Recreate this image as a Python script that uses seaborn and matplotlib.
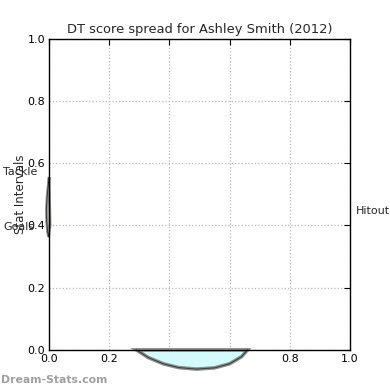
import matplotlib
matplotlib.use("Agg")
import matplotlib.pyplot as plt
import seaborn as sns

sns.set_theme(style="white")
plt.rcParams['font.family'] = ['DejaVu Sans']

player = "Ashley Smith"
season = 2012
stat_names = ["Tackle", "Goals", "Hitout"]

# outlines of the two spread blobs
bottom_x = [0.29, 0.33, 0.38, 0.43, 0.49, 0.55, 0.60, 0.64, 0.66]
bottom_y = [0.0, -0.025, -0.045, -0.057, -0.062, -0.058, -0.045, -0.022, 0.0]
left_x = [0.0, -0.003, -0.007, -0.009, -0.008, -0.005, -0.002, 0.003, 0.0]
left_y = [0.556, 0.53, 0.49, 0.45, 0.41, 0.38, 0.363, 0.40, 0.556]

fig = plt.figure(figsize=(3.9, 3.9), dpi=100)
ax = fig.add_axes([0.126, 0.103, 0.771, 0.797])

ax.set_xlim(0, 1)
ax.set_ylim(0, 1)
ax.grid(True, linestyle=':', color='#b8b8b8', linewidth=0.9)
for s in ax.spines.values():
    s.set_color('black')
    s.set_linewidth(1.0)
ax.tick_params(direction='in', length=4, width=0.8, top=True, right=True,
               labelsize=8, colors='black', pad=3)
ax.set_xticks([0, 0.2, 0.4, 0.6, 0.8, 1.0])
ax.set_yticks([0, 0.2, 0.4, 0.6, 0.8, 1.0])

# spread blobs
ax.fill(bottom_x + bottom_x[:1], bottom_y + bottom_y[:1], facecolor='#d4fbfb',
        edgecolor='#909090', linewidth=2.6, clip_on=False, zorder=1)
ax.plot(bottom_x, bottom_y, color='#404040', linewidth=0.8, clip_on=False, zorder=2)
ax.fill(left_x, left_y, facecolor='#e6f0c8', edgecolor='#909090',
        linewidth=2.0, clip_on=False, zorder=1)
ax.plot(left_x, left_y, color='#303030', linewidth=0.6, clip_on=False, zorder=2)

ax.set_title(f"DT score spread for {player} ({season})", fontsize=9.4, pad=4)
ax.set_ylabel("Stat Intervals", fontsize=8.5, labelpad=0)

# stat labels around the chart
ax.text(-0.153, 0.572, stat_names[0], fontsize=8, va='center', ha='left', clip_on=False)
ax.text(-0.153, 0.395, stat_names[1], fontsize=8, va='center', ha='left', clip_on=False)
ax.text(1.02, 0.447, stat_names[2], fontsize=8, va='center', ha='left', clip_on=False)

fig.text(0.003, 0.025, "Dream-Stats.com", fontsize=7.8, fontweight='bold',
         color='#a0a0a0', ha='left', va='center')

fig.savefig("out.png", dpi=100)
